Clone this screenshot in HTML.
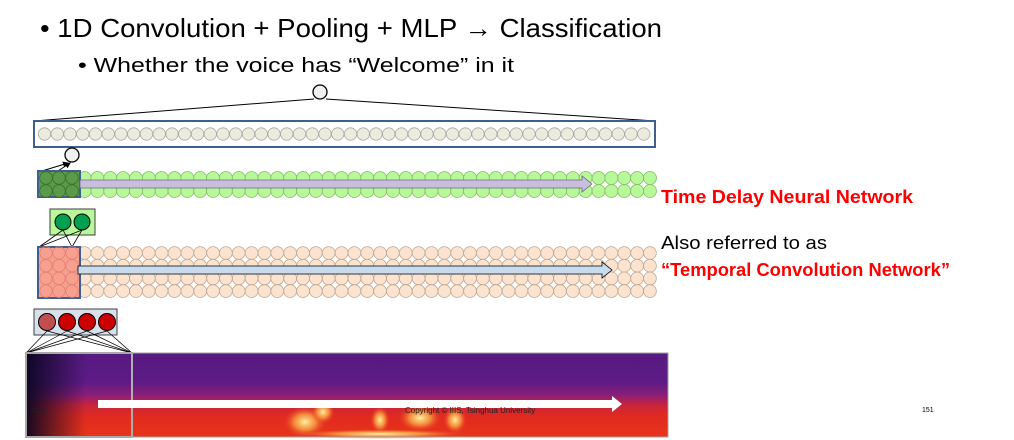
<!DOCTYPE html>
<html><head><meta charset="utf-8"><style>
html,body{margin:0;padding:0;background:#fff;width:1014px;height:440px;overflow:hidden}
svg{display:block}
text{font-family:"Liberation Sans",sans-serif}
</style></head><body>
<svg id="s" width="1014" height="440" viewBox="0 0 1014 440" xmlns="http://www.w3.org/2000/svg">
<defs>
<linearGradient id="spg" x1="0" y1="0" x2="0" y2="1">
<stop offset="0" stop-color="#561a80"/><stop offset="0.35" stop-color="#5e1a86"/><stop offset="0.5" stop-color="#8a1e78"/><stop offset="0.62" stop-color="#c8243c"/><stop offset="0.75" stop-color="#e02a20"/><stop offset="1" stop-color="#e8341a"/></linearGradient>
<linearGradient id="dark" x1="0" y1="0" x2="1" y2="0"><stop offset="0" stop-color="#0a0620" stop-opacity="0.95"/><stop offset="1" stop-color="#0a0620" stop-opacity="0"/></linearGradient>
<radialGradient id="hot"><stop offset="0" stop-color="#fff2a0"/><stop offset="0.5" stop-color="#f8a040" stop-opacity="0.8"/><stop offset="1" stop-color="#e83020" stop-opacity="0"/></radialGradient>
<marker id="ah" markerWidth="6" markerHeight="6" refX="5" refY="3" orient="auto"><path d="M0,0 L6,3 L0,6 z" fill="#000"/></marker>
</defs>
<text x="40" y="37" font-size="26" fill="#000" textLength="622" lengthAdjust="spacingAndGlyphs">• 1D Convolution + Pooling + MLP <tspan font-weight="bold">→</tspan> Classification</text>
<text x="78" y="72" font-size="20" fill="#000" textLength="436" lengthAdjust="spacingAndGlyphs">•  Whether the voice has “Welcome” in it</text>
<g id="diagram"></g>
<g>
<rect x="26" y="353" width="642" height="84" fill="url(#spg)"/>
<rect x="26" y="353" width="60" height="84" fill="url(#dark)"/>
<ellipse cx="305" cy="422" rx="22" ry="16" fill="url(#hot)"/>
<ellipse cx="323" cy="412" rx="12" ry="12" fill="url(#hot)"/>
<ellipse cx="380" cy="420" rx="10" ry="14" fill="url(#hot)"/>
<ellipse cx="420" cy="418" rx="22" ry="14" fill="url(#hot)"/>
<ellipse cx="455" cy="420" rx="12" ry="14" fill="url(#hot)"/>
<ellipse cx="380" cy="434" rx="90" ry="5" fill="url(#hot)"/>
<rect x="26" y="353" width="106" height="84" fill="none" stroke="#b0b0b0" stroke-width="2"/>
<rect x="26" y="353" width="642" height="84" fill="none" stroke="#a0a0a0" stroke-width="1"/>
<path d="M98,400 L612,400 L612,396 L622,404 L612,412 L612,408 L98,408 z" fill="#fff"/>
<text x="32" y="413" font-size="7" fill="#222">2/24</text>
<text x="405" y="413" font-size="8" fill="#222" font-family="Liberation Mono">Copyright © IIIS, Tsinghua University</text>
</g>
<text x="661" y="203" font-size="18" font-weight="bold" fill="#ff0000" textLength="252" lengthAdjust="spacingAndGlyphs">Time Delay Neural Network</text>
<text x="661" y="249" font-size="18" fill="#000" textLength="166" lengthAdjust="spacingAndGlyphs">Also referred to as</text>
<text x="661" y="276" font-size="18" font-weight="bold" fill="#ff0000" textLength="289" lengthAdjust="spacingAndGlyphs">“Temporal Convolution Network”</text>
<text x="922" y="412" font-size="7" fill="#000">151</text>
</svg>
<script>
const NS="http://www.w3.org/2000/svg";
const g=document.getElementById('diagram');
function el(t,a,p){const e=document.createElementNS(NS,t);for(const k in a)e.setAttribute(k,a[k]);(p||g).appendChild(e);return e;}
el('line',{x1:34,y1:121,x2:314,y2:99,stroke:'#000','stroke-width':1});
el('line',{x1:655,y1:121,x2:326,y2:99,stroke:'#000','stroke-width':1});
const tb=el('rect',{x:34,y:121,width:621,height:26,fill:'#fff',stroke:'#3f5f8f','stroke-width':2});


for(let i=0;i<48;i++){el('circle',{cx:44.5+i*12.75,cy:134,r:6.2,fill:'#ebebe0',stroke:'#a8a898','stroke-width':0.8});}
const oc=el('circle',{cx:320,cy:92,r:7,fill:'#f0f0f0',stroke:'#000','stroke-width':1.3});


el('line',{x1:42,y1:171,x2:68,y2:163,stroke:'#000','marker-end':'url(#ah)'});
el('line',{x1:58,y1:171,x2:70,y2:163,stroke:'#000','marker-end':'url(#ah)'});
el('circle',{cx:72,cy:155,r:7,fill:'#f0f0f0',stroke:'#000','stroke-width':1.3});
for(let r=0;r<2;r++)for(let i=0;i<48;i++){el('circle',{cx:46+i*12.85,cy:178+r*13,r:6.5,fill:'#b8f89a',stroke:'#80c060','stroke-width':0.8});}
const gb=el('rect',{x:38,y:171,width:42,height:26,fill:'#5a9a48',stroke:'#3f5f8f','stroke-width':2});


for(let r=0;r<2;r++)for(let i=0;i<3;i++)el('circle',{cx:46+i*13,cy:178+r*13,r:6.3,fill:'#5a9a48',stroke:'#3a7030','stroke-width':0.8});
el('path',{d:'M80,180 L582,180 L582,176 L592,184 L582,192 L582,188 L80,188 z',fill:'#c9bfdc',stroke:'#6a6a8a','stroke-width':0.8});
el('rect',{x:50,y:209,width:45,height:26,fill:'#b8f89a',stroke:'#404040','stroke-width':1});
el('circle',{cx:63,cy:222,r:8,fill:'#00a050',stroke:'#000','stroke-width':1});
el('circle',{cx:82,cy:222,r:8,fill:'#00a050',stroke:'#000','stroke-width':1});
[[63,230],[82,230]].forEach(p=>{el('line',{x1:p[0],y1:p[1],x2:39,y2:247,stroke:'#000','stroke-width':0.8});el('line',{x1:p[0],y1:p[1],x2:72,y2:247,stroke:'#000','stroke-width':0.8});});
for(let r=0;r<4;r++)for(let i=0;i<48;i++){el('circle',{cx:46+i*12.85,cy:253+r*12.7,r:6.4,fill:'#fbe3d0',stroke:'#c0a890','stroke-width':0.8});}
const rb=el('rect',{x:38,y:247,width:42,height:51,fill:'#f8a090',stroke:'#3f5f8f','stroke-width':2});


for(let r=0;r<4;r++)for(let i=0;i<3;i++)el('circle',{cx:46+i*13,cy:253+r*12.7,r:6.2,fill:'none',stroke:'#e08070','stroke-width':0.8});
el('path',{d:'M78,266 L602,266 L602,262 L612,270 L602,278 L602,274 L78,274 z',fill:'#c8dcf0',stroke:'#000','stroke-width':0.8});
const cb=el('rect',{x:34,y:309,width:83,height:26,fill:'#d8e0ec',stroke:'#404040','stroke-width':1});


[47,67,87,107].forEach((x,i)=>{el('circle',{cx:x,cy:322,r:8.5,fill:i==0?'#c05050':'#cc0000',stroke:'#000','stroke-width':1});
el('line',{x1:x,y1:331,x2:26,y2:353,stroke:'#000','stroke-width':0.7});el('line',{x1:x,y1:331,x2:132,y2:353,stroke:'#000','stroke-width':0.7});});
</script>
</body></html>
